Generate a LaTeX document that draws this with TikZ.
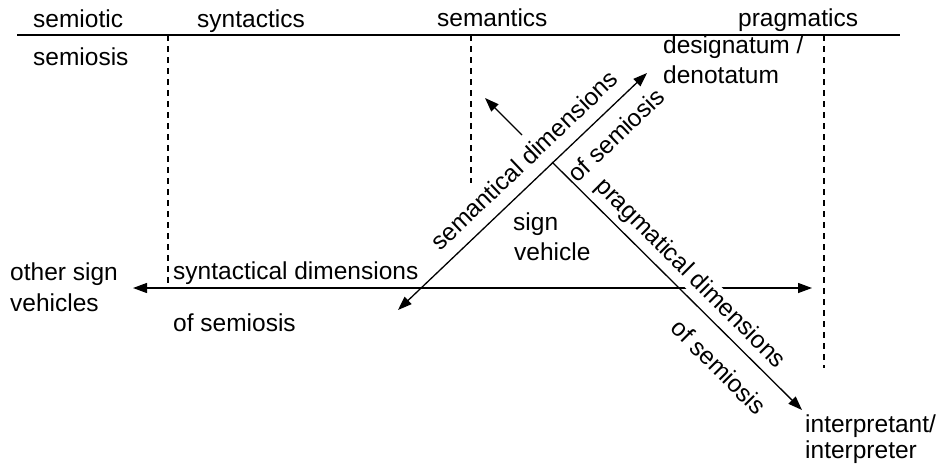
\documentclass[tikz,border=0pt]{standalone}
\usepackage{fontspec}
\setmainfont{Liberation Sans}
\usetikzlibrary{arrows.meta}
\begin{document}
\begin{tikzpicture}[x=1pt,y=-1pt,
  lbl/.style={inner sep=0pt,font=\fontsize{24.5}{28}\selectfont},
  ln/.style={line width=1.3pt},
  dsh/.style={line width=1.1pt,dash pattern=on 6pt off 5pt},
  tip/.style={-{Triangle[length=14pt,width=10pt]}},
  tips/.style={{Triangle[length=14pt,width=10pt]}-{Triangle[length=14pt,width=10pt]}}]
\useasboundingbox (0,0) rectangle (942,466);
% header
\node[lbl,anchor=base west] (semiotic) at (33,27) {semiotic};
\node[lbl,anchor=base west] (syntactics) at (197,27) {syntactics};
\node[lbl,anchor=base west] (semantics) at (437,26) {semantics};
\node[lbl,anchor=base west] (pragmatics) at (738,26) {pragmatics};
\coordinate (hl) at (17,35);
\coordinate (hr) at (900,35);
\draw[ln] (hl) -- (hr);
% dashed separators
\coordinate (d1t) at (168,35); \coordinate (d1b) at (168,283);
\coordinate (d2t) at (471,35); \coordinate (d2b) at (471,183);
\coordinate (d3t) at (824,35); \coordinate (d3b) at (824,368);
\draw[dsh] (d1t) -- (d1b);
\draw[dsh] (d2t) -- (d2b);
\draw[dsh] (d3t) -- (d3b);
% texts
\node[lbl,anchor=base west] (semiosis) at (33,65) {semiosis};
\node[lbl,anchor=base west] (desig) at (663,53) {designatum /};
\node[lbl,anchor=base west] (denot) at (663,83) {denotatum};
\node[lbl,anchor=base west] (sign) at (513,230) {sign};
\node[lbl,anchor=base west] (vehicle) at (514,260) {vehicle};
\node[lbl,anchor=base west] (other) at (10,280) {other sign};
\node[lbl,anchor=base west] (vehicles) at (10,311) {vehicles};
\node[lbl,anchor=base west] (syndim) at (173,279) {syntactical dimensions};
\node[lbl,anchor=base west] (synof) at (173,331) {of semiosis};
\node[lbl,anchor=base west] (interp1) at (805,432) {interpretant/};
\node[lbl,anchor=base west] (interp2) at (805,458) {interpreter};
% axes
\coordinate (hL) at (133,288);
\coordinate (hR) at (812,288);
\draw[ln,tips] (hL) -- (hR);
\coordinate (sL) at (398,310);
\coordinate (sR) at (647,73);
\draw[ln,tips] (sL) -- (sR);
\coordinate (pS) at (552,162);
\coordinate (pE) at (802,410);
\draw[ln,tip] (pS) -- (pE);
\coordinate (aS) at (522,135);
\coordinate (aE) at (485,98);
\draw[ln,tip] (aS) -- (aE);
% rotated labels
\node[lbl,rotate=43.6] (semdim) at (524,160) {semantical dimensions};
\node[lbl,rotate=43.6] (semof) at (616,135) {of semiosis};
\node[lbl,rotate=-45,fill=white,inner sep=1.5pt] (pragdim) at (690,274) {pragmatical dimensions};
\node[lbl,rotate=-45] (pragof) at (719,367) {of semiosis};
\end{tikzpicture}
\end{document}
